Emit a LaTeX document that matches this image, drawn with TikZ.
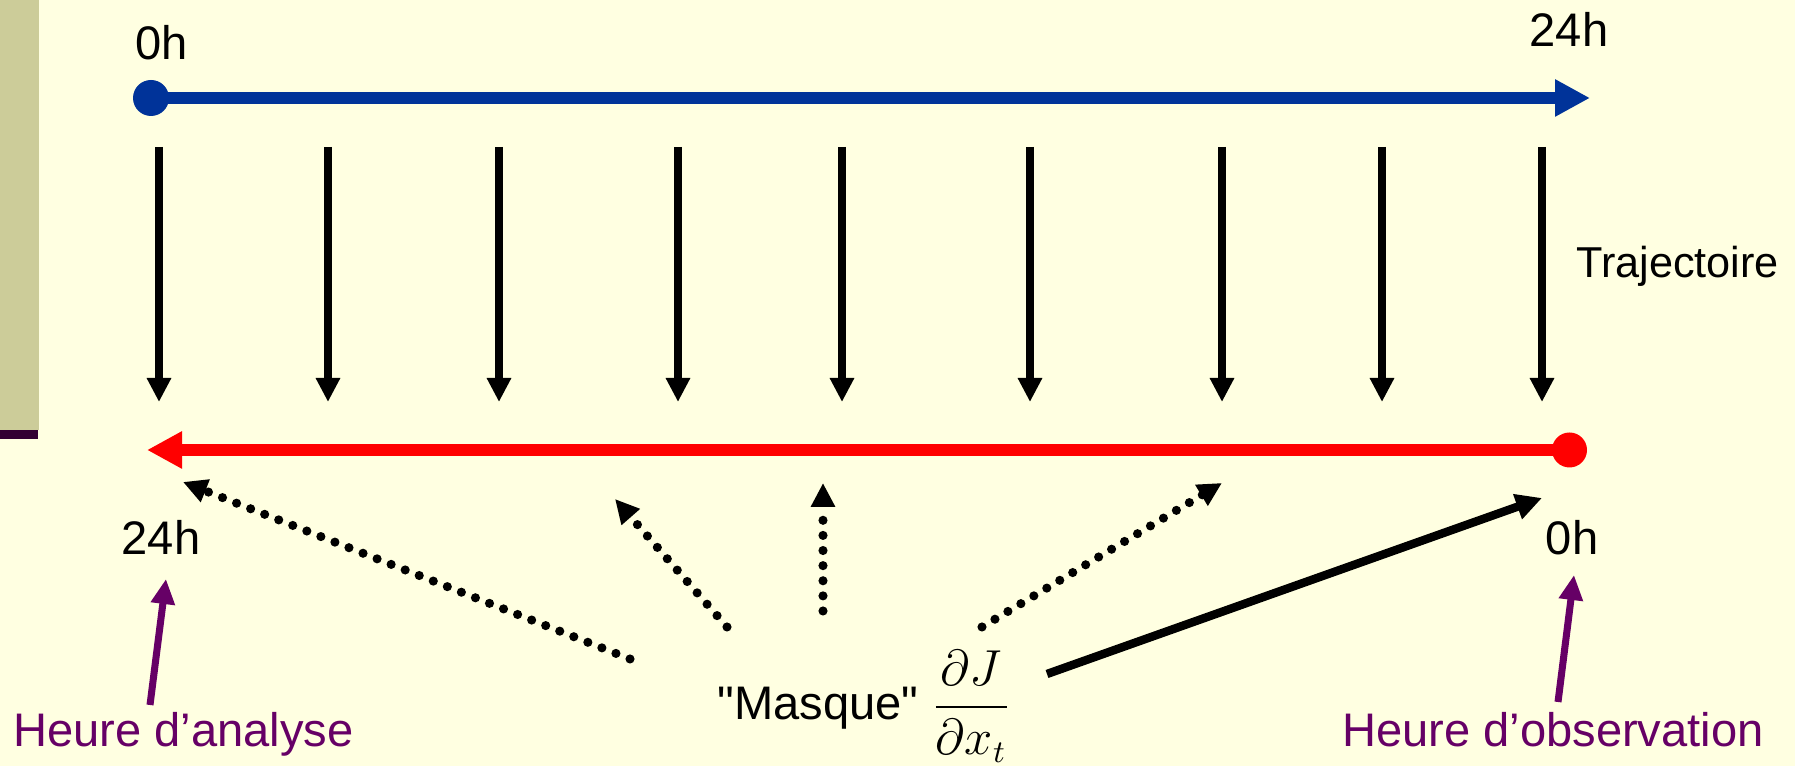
\documentclass[tikz,border=0pt]{standalone}
\usepackage{amsmath}
\usepackage{fontspec}
\setmainfont{Liberation Sans}
\usepackage{tikz}
\usetikzlibrary{arrows.meta}
\definecolor{fond}{RGB}{255,255,225}
\definecolor{bande}{RGB}{204,204,153}
\definecolor{trait}{RGB}{51,0,51}
\definecolor{bleu}{RGB}{0,51,153}
\definecolor{violet}{RGB}{102,0,102}

\begin{document}
\begin{tikzpicture}[
  font=\fontsize{13.4}{16}\selectfont,
  lab/.style={inner sep=0pt, anchor=base},
  axe/.style={-{Triangle[length=3.5mm, width=3.5mm]}, line width=3.4pt},
  traj/.style={-{Triangle[length=2.4mm, width=2.3mm]}, line width=2.3pt},
  adj/.style={-{Triangle[length=2.4mm, width=2.3mm]}, line width=2.6pt, line cap=round, dash pattern=on 0pt off 4.3pt},
  fleche/.style={-{Triangle[length=2.5mm, width=2.3mm]}, line width=2pt, violet}
]
  \fill[fond] (0,0) rectangle (17.95,7.66);
  \fill[bande] (0,3.36) rectangle (0.39,7.66);
  \fill[trait] (0,3.27) rectangle (0.38,3.36);

  \coordinate (d0) at (1.51,6.68);
  \coordinate (d24) at (15.90,6.68);
  \draw[axe, bleu] (d0) -- (d24);
  \fill[bleu] (d0) circle (0.18);
  \coordinate (i0) at (15.695,3.16);
  \coordinate (i24) at (1.47,3.16);
  \draw[axe, red] (i0) -- (i24);
  \fill[red] (i0) circle (0.175);

  \foreach \x [count=\i] in {1.59,3.28,4.99,6.78,8.42,10.30,12.22,13.82,15.42} {
    \coordinate (t\i) at (\x,6.19);
    \coordinate (s\i) at (\x,3.64);
    \draw[traj] (t\i) -- (s\i);
  }

  \node[lab] (h0) at (1.62,7.06) {0h};
  \node[lab] (h24) at (15.69,7.19) {24h};
  \node[lab] (b24) at (1.61,2.11) {24h};
  \node[lab] (b0) at (15.72,2.11) {0h};
  \node[lab, font=\fontsize{12.3}{14}\selectfont] (traj) at (16.775,4.88) {Trajectoire};
  \node[lab, violet] (ana) at (1.835,0.19) {Heure d’analyse};
  \node[lab, violet] (obs) at (15.53,0.19) {Heure d’observation};
  \node[lab, anchor=base west] (masque) at (7.17,0.46) {\textquotedbl Masque\textquotedbl{} $\dfrac{\partial J}{\partial x_t}$};

  \foreach \xa/\ya/\xb/\yb [count=\i] in {6.30/1.07/1.83/2.84, 7.27/1.39/6.15/2.67, 8.23/1.55/8.23/2.83, 9.82/1.39/12.22/2.83} {
    \coordinate (m\i) at (\xa,\ya);
    \coordinate (c\i) at (\xb,\yb);
    \draw[adj] (m\i) -- (c\i);
  }
  \coordinate (m5) at (10.47,0.92);
  \coordinate (c5) at (15.42,2.68);
  \draw[-{Triangle[length=2.6mm, width=2.5mm]}, line width=2.4pt] (m5) -- (c5);

  \coordinate (anaq) at (1.50,0.61);
  \coordinate (anat) at (1.66,1.87);
  \draw[fleche] (anaq) -- (anat);
  \coordinate (obsq) at (15.58,0.64);
  \coordinate (obst) at (15.74,1.91);
  \draw[fleche] (obsq) -- (obst);
\end{tikzpicture}
\end{document}
